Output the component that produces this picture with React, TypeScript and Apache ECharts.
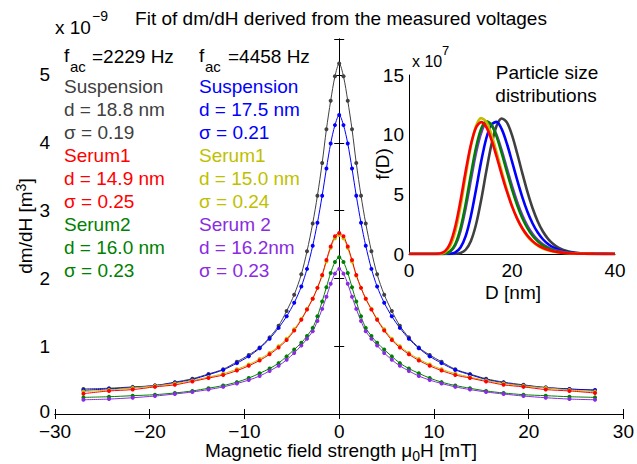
import React, { useEffect, useRef } from "react";
import * as echarts from "echarts";

// ---------- main plot data (x 1e-9 m^3) ----------
const fieldH = [-27, -24.3, -21.8, -19.45, -17.35, -15.5, -13.8, -12.25, -10.8, -9.55, -8.4, -7.35, -6.4, -5.55, -4.75, -4.0, -3.4, -2.8, -2.3, -1.8, -1.35, -0.9, -0.45, 0, 0.45, 0.9, 1.35, 1.8, 2.3, 2.8, 3.4, 4.0, 4.75, 5.55, 6.4, 7.35, 8.4, 9.55, 10.8, 12.25, 13.8, 15.5, 17.35, 19.45, 21.8, 24.3, 27];

const suspension2229 = [0.37, 0.38, 0.40, 0.42, 0.47, 0.52, 0.59, 0.66, 0.77, 0.87, 0.98, 1.13, 1.30, 1.52, 1.76, 2.06, 2.40, 2.81, 3.22, 3.70, 4.20, 4.62, 4.98, 5.17, 4.98, 4.62, 4.20, 3.70, 3.22, 2.81, 2.40, 2.06, 1.76, 1.52, 1.30, 1.13, 0.98, 0.87, 0.77, 0.66, 0.59, 0.52, 0.47, 0.43, 0.39, 0.365, 0.355];
const suspension4458 = [0.35, 0.37, 0.39, 0.42, 0.46, 0.51, 0.58, 0.65, 0.75, 0.85, 0.97, 1.11, 1.27, 1.44, 1.64, 1.88, 2.14, 2.48, 2.82, 3.22, 3.62, 3.99, 4.26, 4.41, 4.26, 3.99, 3.62, 3.22, 2.82, 2.48, 2.14, 1.88, 1.64, 1.44, 1.27, 1.11, 0.97, 0.85, 0.75, 0.65, 0.58, 0.51, 0.46, 0.42, 0.39, 0.37, 0.35];
const serum1_2229 = [0.30, 0.34, 0.36, 0.40, 0.43, 0.48, 0.53, 0.575, 0.64, 0.71, 0.79, 0.88, 0.98, 1.09, 1.23, 1.39, 1.54, 1.70, 1.86, 2.05, 2.27, 2.47, 2.62, 2.67, 2.62, 2.47, 2.27, 2.05, 1.86, 1.70, 1.54, 1.39, 1.23, 1.09, 0.98, 0.88, 0.79, 0.71, 0.64, 0.575, 0.53, 0.48, 0.43, 0.40, 0.36, 0.34, 0.31];
const serum1_4458 = [0.33, 0.355, 0.385, 0.415, 0.45, 0.495, 0.545, 0.595, 0.66, 0.73, 0.81, 0.90, 1.00, 1.11, 1.25, 1.40, 1.55, 1.70, 1.86, 2.04, 2.25, 2.45, 2.59, 2.64, 2.59, 2.45, 2.25, 2.04, 1.86, 1.70, 1.55, 1.40, 1.25, 1.11, 1.00, 0.90, 0.81, 0.73, 0.66, 0.595, 0.545, 0.495, 0.45, 0.415, 0.385, 0.355, 0.33];
const serum2_2229 = [0.245, 0.255, 0.27, 0.285, 0.31, 0.34, 0.38, 0.42, 0.47, 0.53, 0.60, 0.67, 0.75, 0.85, 0.95, 1.05, 1.15, 1.27, 1.44, 1.66, 1.87, 2.08, 2.24, 2.31, 2.24, 2.08, 1.87, 1.66, 1.44, 1.27, 1.15, 1.05, 0.95, 0.85, 0.75, 0.67, 0.60, 0.53, 0.47, 0.42, 0.38, 0.34, 0.31, 0.285, 0.27, 0.255, 0.245];
const serum2_4458 = [0.21, 0.22, 0.24, 0.265, 0.295, 0.325, 0.36, 0.40, 0.45, 0.50, 0.56, 0.635, 0.71, 0.80, 0.90, 1.01, 1.11, 1.22, 1.37, 1.55, 1.73, 1.92, 2.07, 2.14, 2.07, 1.92, 1.73, 1.55, 1.37, 1.22, 1.11, 1.01, 0.90, 0.80, 0.71, 0.635, 0.56, 0.50, 0.45, 0.40, 0.36, 0.325, 0.295, 0.265, 0.24, 0.22, 0.21];

const mainXTicks = [-30, -20, -10, 0, 10, 20, 30];
const mainYTicks = [0, 1, 2, 3, 4, 5];

// ---------- inset data (x 1e7 1/m) ----------
const sizeD = [0, 5, 6, 7, 8, 9, 10, 11, 12, 13, 14, 15, 16, 17, 18, 19, 20, 21, 22, 23, 24, 25, 26, 27, 28, 29, 30, 32, 34, 36, 40];
const fSusp2229 = [0, 0, 0, 0, 0.001, 0.013, 0.084, 0.357, 1.073, 2.45, 4.5, 6.91, 9.15, 10.73, 11.36, 11.03, 9.96, 8.44, 6.78, 5.2, 3.83, 2.73, 1.883, 1.268, 0.834, 0.537, 0.34, 0.131, 0.048, 0.017, 0.002];
const fSusp4458 = [0, 0, 0, 0.002, 0.023, 0.14, 0.545, 1.499, 3.15, 5.36, 7.72, 9.68, 10.84, 11.07, 10.46, 9.26, 7.76, 6.21, 4.77, 3.54, 2.553, 1.796, 1.236, 0.834, 0.554, 0.363, 0.235, 0.096, 0.038, 0.015, 0.002];
const fSer1_2229 = [0, 0.002, 0.035, 0.237, 0.904, 2.32, 4.47, 6.94, 9.14, 10.58, 11.05, 10.64, 9.58, 8.17, 6.66, 5.24, 3.99, 2.963, 2.154, 1.537, 1.079, 0.749, 0.514, 0.35, 0.237, 0.159, 0.106, 0.047, 0.02, 0.009, 0.002];
const fSer1_4458 = [0, 0.001, 0.019, 0.153, 0.673, 1.915, 3.99, 6.55, 8.99, 10.7, 11.39, 11.08, 10.02, 8.53, 6.92, 5.39, 4.05, 2.963, 2.116, 1.48, 1.018, 0.69, 0.463, 0.307, 0.202, 0.132, 0.086, 0.036, 0.015, 0.006, 0.001];
const fSer2_2229 = [0, 0, 0.003, 0.039, 0.231, 0.842, 2.149, 4.18, 6.61, 8.88, 10.47, 11.12, 10.84, 9.86, 8.45, 6.91, 5.42, 4.11, 3.02, 2.172, 1.528, 1.056, 0.719, 0.484, 0.321, 0.211, 0.138, 0.058, 0.024, 0.01, 0.002];
const fSer2_4458 = [0, 0, 0.003, 0.032, 0.196, 0.734, 1.923, 3.83, 6.17, 8.44, 10.13, 10.93, 10.82, 9.98, 8.68, 7.18, 5.7, 4.37, 3.25, 2.361, 1.677, 1.17, 0.804, 0.545, 0.365, 0.242, 0.16, 0.068, 0.028, 0.011, 0.002];

const legendCol1 = ["Suspension", "d = 18.8 nm", "σ = 0.19", "Serum1", "d = 14.9 nm", "σ = 0.25", "Serum2", "d = 16.0 nm", "σ = 0.23"];
const legendCol2 = ["Suspension", "d = 17.5 nm", "σ = 0.21", "Serum1", "d = 15.0 nm", "σ = 0.24", "Serum 2", "d = 16.2nm", "σ = 0.23"];

const C_GRAY = "#404040";
const C_BLUE = "#0000ff";
const C_RED = "#ff0000";
const C_YEL = "#bfbf00";
const C_GRN = "#008000";
const C_PUR = "#8a2be2";
const col1Colors = [C_GRAY, C_GRAY, C_GRAY, C_RED, C_RED, C_RED, C_GRN, C_GRN, C_GRN];
const col2Colors = [C_BLUE, C_BLUE, C_BLUE, C_YEL, C_YEL, C_YEL, C_PUR, C_PUR, C_PUR];

const FONT = "'Liberation Sans', Arial, Helvetica, sans-serif";

function txt(text: string, x: number, y: number, fill: string, fontSize = 19, align = "left", extra: any = {}) {
  return {
    type: "text",
    x,
    y,
    silent: true,
    z: 100,
    ...extra,
    style: {
      text,
      fill,
      fontSize,
      fontFamily: FONT,
      align,
      textAlign: align,
      verticalAlign: "middle",
      textVerticalAlign: "middle",
    },
  };
}

function pairs(xs: number[], ys: number[]) {
  return xs.map((x, i) => [x, ys[i]]);
}

export default function App() {
  const ref = useRef<HTMLDivElement>(null);
  useEffect(() => {
    if (!ref.current) return;
    const chart = echarts.init(ref.current, null, { renderer: "svg" });

    const axisCommon = {
      axisLine: { show: true, lineStyle: { color: "#000", width: 1 } },
      splitLine: { show: false },
      axisTick: { show: true, inside: true, length: 5, lineStyle: { color: "#000" } },
    };
    const labelStyle = { color: "#000", fontSize: 19, fontFamily: FONT, lineHeight: 14 };
    const minusFmt = (v: number) => (v < 0 ? "\u2212" + Math.abs(v) : String(v));

    const mainSeries = [
      { data: suspension2229, color: C_GRAY },
      { data: suspension4458, color: C_BLUE },
      { data: serum1_4458, color: C_YEL },
      { data: serum1_2229, color: C_RED },
      { data: serum2_2229, color: C_GRN },
      { data: serum2_4458, color: C_PUR },
    ].map((s) => ({
      type: "line",
      xAxisIndex: 0,
      yAxisIndex: 0,
      data: pairs(fieldH, s.data),
      smooth: 0.3,
      symbol: "circle",
      symbolSize: 4,
      showSymbol: true,
      lineStyle: { color: s.color, width: 1 },
      itemStyle: { color: s.color },
    }));

    const insetSeries = [
      { data: fSusp2229, color: C_GRAY },
      { data: fSusp4458, color: C_BLUE },
      { data: fSer2_4458, color: C_PUR },
      { data: fSer2_2229, color: C_GRN },
      { data: fSer1_4458, color: C_YEL },
      { data: fSer1_2229, color: C_RED },
    ].map((s) => ({
      type: "line",
      xAxisIndex: 2,
      yAxisIndex: 2,
      data: pairs(sizeD, s.data),
      smooth: 0.3,
      showSymbol: false,
      symbol: "none",
      lineStyle: { color: s.color, width: 2.6 },
    }));

    const graphic: any[] = [];
    graphic.push(txt("Fit of dm/dH derived from the measured voltages", 341, 18, "#000", 19, "center"));
    graphic.push(txt("x 10", 55, 27, "#000", 19));
    graphic.push(txt("\u22129", 92, 16, "#000", 14));
    // frequency headers
    graphic.push(txt("f", 64, 55, "#000", 19));
    graphic.push(txt("ac", 70, 66, "#000", 15));
    graphic.push(txt("=2229 Hz", 92, 56, "#000", 19));
    graphic.push(txt("f", 199, 55, "#000", 19));
    graphic.push(txt("ac", 205, 66, "#000", 15));
    graphic.push(txt("=4458 Hz", 228, 56, "#000", 19));
    legendCol1.forEach((s, i) => graphic.push(txt(s, 64, 86 + i * 23, col1Colors[i], 19)));
    legendCol2.forEach((s, i) => graphic.push(txt(s, 199, 86 + i * 23, col2Colors[i], 19)));

    // y axis name (rotated, with superscript)
    graphic.push({
      type: "text",
      x: 25,
      y: 226,
      rotation: Math.PI / 2,
      silent: true,
      style: {
        text: "{a|dm/dH [m}{s|3}{a|]}",
        align: "center",
        textAlign: "center",
        verticalAlign: "middle",
        textVerticalAlign: "middle",
        fill: "#000",
        rich: {
          a: { fontSize: 19, fontFamily: FONT, fill: "#000", lineHeight: 22 },
          s: { fontSize: 14, fontFamily: FONT, fill: "#000", lineHeight: 14, verticalAlign: "top", padding: [0, 0, 15, 0] },
        },
      },
    });
    // x axis name (with subscript)
    graphic.push({
      type: "text",
      x: 341,
      y: 452,
      silent: true,
      style: {
        text: "{a|Magnetic field strength μ}{s|0}{a|H [mT]}",
        align: "center",
        textAlign: "center",
        verticalAlign: "middle",
        textVerticalAlign: "middle",
        fill: "#000",
        rich: {
          a: { fontSize: 19, fontFamily: FONT, fill: "#000", lineHeight: 22, verticalAlign: "top" },
          s: { fontSize: 14, fontFamily: FONT, fill: "#000", lineHeight: 14, verticalAlign: "bottom", padding: [14, 0, 0, 0] },
        },
      },
    });
    // inset texts
    graphic.push(txt("x 10", 412, 61, "#000", 16));
    graphic.push(txt("7", 442, 50, "#000", 13));
    graphic.push(txt("Particle size", 547, 72, "#000", 19, "center"));
    graphic.push(txt("distributions", 546, 95, "#000", 19, "center"));
    graphic.push(txt("f(D)", 382, 164, "#000", 19, "center", { rotation: Math.PI / 2 }));
    graphic.push(txt("D [nm]", 513, 292, "#000", 19, "center"));

    const option: any = {
      animation: false,
      backgroundColor: "#fff",
      textStyle: { fontFamily: FONT },
      grid: [
        { left: 55, right: 10, top: 39, bottom: 50, containLabel: false },
        { left: 409, right: 22, top: 75, bottom: 210, containLabel: false },
      ],
      xAxis: [
        {
          type: "value", gridIndex: 0, position: "bottom",
          min: mainXTicks[0], max: mainXTicks[mainXTicks.length - 1], interval: 10,
          ...axisCommon,
          axisLabel: { ...labelStyle, margin: 10, formatter: minusFmt },
        },
        {
          type: "value", gridIndex: 0, position: "top",
          min: mainXTicks[0], max: mainXTicks[mainXTicks.length - 1], interval: 10,
          ...axisCommon,
          axisLabel: { show: false },
        },
        {
          type: "value", gridIndex: 1, position: "bottom",
          min: 0, max: 40, interval: 20,
          axisLine: { show: true, lineStyle: { color: "#000", width: 1 } },
          splitLine: { show: false },
          axisTick: { show: false },
          axisLabel: { ...labelStyle, margin: 9 },
        },
      ],
      yAxis: [
        {
          type: "value", gridIndex: 0, position: "left",
          min: mainYTicks[0], max: 5.53, interval: 1,
          ...axisCommon,
          axisLabel: {
            ...labelStyle,
            margin: 5,
            formatter: (v: number) => (v === 0 ? "{z|0}" : mainYTicks.includes(v) ? String(v) : ""),
            rich: { z: { fontSize: 19, fontFamily: FONT, color: "#000", lineHeight: 14, padding: [0, 0, 6, 0] } },
          },
        },
        {
          type: "value", gridIndex: 0, position: "right",
          min: mainYTicks[0], max: 5.53, interval: 1,
          ...axisCommon,
          axisLabel: { show: false },
        },
        {
          type: "value", gridIndex: 1, position: "left",
          min: 0, max: 15, interval: 5,
          axisLine: { show: true, lineStyle: { color: "#000", width: 1 } },
          splitLine: { show: false },
          axisTick: { show: false },
          axisLabel: { ...labelStyle, margin: 5 },
        },
      ],
      series: [...mainSeries, ...insetSeries],
      graphic,
    };
    chart.setOption(option);
    return () => chart.dispose();
  }, []);

  return <div ref={ref} style={{ width: 637, height: 464, position: "absolute", left: 0, top: 0 }} />;
}
